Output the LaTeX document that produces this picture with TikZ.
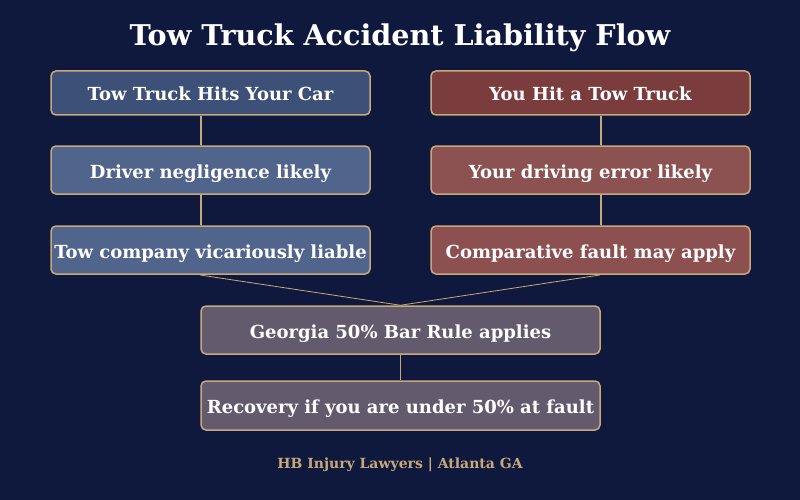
\documentclass[tikz,border=0pt]{standalone}
\usepackage{fontspec}
\setmainfont{DejaVu Serif}
\definecolor{bg}{HTML}{0F193E}
\definecolor{gold}{HTML}{C8A878}
\definecolor{blueA}{HTML}{3C5078}
\definecolor{blueB}{HTML}{50648C}
\definecolor{redA}{HTML}{7A3C3C}
\definecolor{redB}{HTML}{8C5252}
\definecolor{redC}{HTML}{8C5050}
\definecolor{purp}{HTML}{645A6E}
\begin{document}
\begin{tikzpicture}[x=1pt,y=-1pt,
  box/.style={draw=gold,line width=1.5pt,rounded corners=5pt},
  lbl/.style={text=white,font=\bfseries\fontsize{18}{20}\selectfont,inner sep=0pt,anchor=base},
  link/.style={draw=gold,line width=1.4pt}]
\fill[bg] (0,0) rectangle (800,500);
\useasboundingbox (0,0) rectangle (800,500);
\node[text=white,font=\bfseries\fontsize{28.6}{32}\selectfont,inner sep=0pt,anchor=base] (title) at (400,46) {Tow Truck Accident Liability Flow};
% boxes
\node[box,fill=blueA,minimum width=319pt,minimum height=44pt] (l1) at (210.5,93) {};
\node[box,fill=blueB,minimum width=319pt,minimum height=48pt] (l2) at (210.5,170) {};
\node[box,fill=blueB,minimum width=319pt,minimum height=48pt] (l3) at (210.5,250) {};
\node[box,fill=redA,minimum width=319pt,minimum height=44pt] (r1) at (590.5,93) {};
\node[box,fill=redB,minimum width=319pt,minimum height=48pt] (r2) at (590.5,170) {};
\node[box,fill=redC,minimum width=319pt,minimum height=48pt] (r3) at (590.5,250) {};
\node[box,fill=purp,minimum width=399pt,minimum height=48pt] (g) at (400.5,330) {};
\node[box,fill=purp,minimum width=399pt,minimum height=49pt] (rec) at (400.5,405.5) {};
% labels
\node[lbl] (tl1) at ([yshift=-7.5pt]l1.center) {Tow Truck Hits Your Car};
\node[lbl] (tl2) at ([yshift=-8pt]l2.center) {Driver negligence likely};
\node[lbl] (tl3) at ([yshift=-8pt]l3.center) {Tow company vicariously liable};
\node[lbl] (tr1) at ([yshift=-7.5pt]r1.center) {You Hit a Tow Truck};
\node[lbl] (tr2) at ([yshift=-8pt]r2.center) {Your driving error likely};
\node[lbl] (tr3) at ([yshift=-8pt]r3.center) {Comparative fault may apply};
\node[lbl] (tg) at ([yshift=-8pt]g.center) {Georgia 50\% Bar Rule applies};
\node[lbl] (trec) at ([yshift=-8pt]rec.center) {Recovery if you are under 50\% at fault};
\node[text=gold,font=\bfseries\fontsize{14}{16}\selectfont,inner sep=0pt,anchor=base] (foot) at (400,468) {HB Injury Lawyers | Atlanta GA};
% connectors
\coordinate (l1b) at (201,115.75);
\coordinate (l2t) at (201,145.25);
\coordinate (l2b) at (201,194.75);
\coordinate (l3t) at (201,225.25);
\coordinate (r1b) at (601,115.75);
\coordinate (r2t) at (601,145.25);
\coordinate (r2b) at (601,194.75);
\coordinate (r3t) at (601,225.25);
\coordinate (l3b) at (200,275);
\coordinate (r3b) at (600,275);
\draw[link] (l1b) -- (l2t);
\draw[link] (l2b) -- (l3t);
\draw[link] (r1b) -- (r2t);
\draw[link] (r2b) -- (r3t);
\draw[link,line width=0.8pt] (l3b) -- (g.north);
\draw[link,line width=0.8pt] (r3b) -- (g.north);
\draw[link] (g.south) -- (rec.north);
\end{tikzpicture}
\end{document}
